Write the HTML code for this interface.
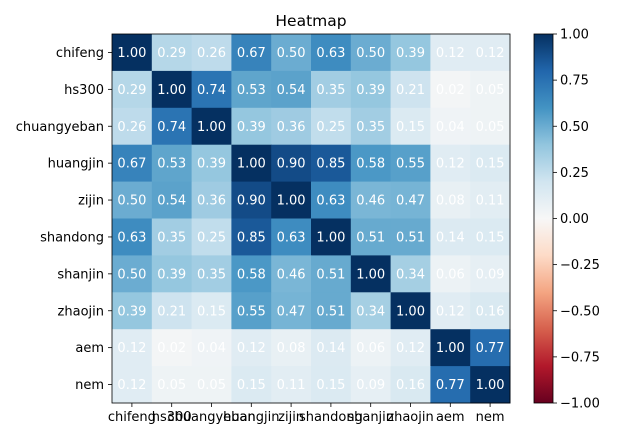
<!DOCTYPE html>
<html><head><meta charset="utf-8"><style>
html,body{margin:0;padding:0;background:#fff;}
svg{display:block;font-family:"DejaVu Sans","Liberation Sans",sans-serif;}
</style></head><body>
<svg id="s" width="619" height="437" xmlns="http://www.w3.org/2000/svg">
<defs><linearGradient id="cb" x1="0" y1="1" x2="0" y2="0">
<stop offset="0" stop-color="#67001f"/><stop offset="0.1" stop-color="#b2182b"/><stop offset="0.2" stop-color="#d6604d"/><stop offset="0.3" stop-color="#f4a582"/><stop offset="0.4" stop-color="#fddbc7"/><stop offset="0.5" stop-color="#f7f7f7"/><stop offset="0.6" stop-color="#d1e5f0"/><stop offset="0.7" stop-color="#92c5de"/><stop offset="0.8" stop-color="#4393c3"/><stop offset="0.9" stop-color="#2166ac"/><stop offset="1" stop-color="#053061"/>
</linearGradient></defs>
<text x="311" y="26" font-size="15.5" text-anchor="middle" fill="#000">Heatmap</text>
<g id="g"></g>
<rect x="534" y="34" width="19" height="369" fill="url(#cb)" stroke="#000" stroke-width="0.8"/>
</svg>
<script>
var names=["chifeng","hs300","chuangyeban","huangjin","zijin","shandong","shanjin","zhaojin","aem","nem"];
var M=[[1,.29,.26,.67,.50,.63,.50,.39,.12,.12],[.29,1,.74,.53,.54,.35,.39,.21,.02,.05],[.26,.74,1,.39,.36,.25,.35,.15,.04,.05],[.67,.53,.39,1,.90,.85,.58,.55,.12,.15],[.50,.54,.36,.90,1,.63,.46,.47,.08,.11],[.63,.35,.25,.85,.63,1,.51,.51,.14,.15],[.50,.39,.35,.58,.46,.51,1,.34,.06,.09],[.39,.21,.15,.55,.47,.51,.34,1,.12,.16],[.12,.02,.04,.12,.08,.14,.06,.12,1,.77],[.12,.05,.05,.15,.11,.15,.09,.16,.77,1]];
var stops=[[247,247,247],[209,229,240],[146,197,222],[67,147,195],[33,102,172],[5,48,97]];
function col(v){var t=v/0.2,i=Math.min(4,Math.floor(t)),f=t-i,a=stops[i],b=stops[i+1];
return "rgb("+a.map(function(x,k){return Math.round(x+(b[k]-x)*f)}).join(",")+")";}
var L=112,T=34,W=398/10,H=369/10,h="";
for(var r=0;r<10;r++)for(var c=0;c<10;c++){
h+='<rect x="'+(L+c*W)+'" y="'+(T+r*H)+'" width="'+(W+0.5)+'" height="'+(H+0.5)+'" fill="'+col(M[r][c])+'"/>';
h+='<text x="'+(L+c*W+W/2)+'" y="'+(T+r*H+H/2+4.5)+'" font-size="13" fill="#fff" text-anchor="middle">'+M[r][c].toFixed(2)+'</text>';}
h+='<rect x="'+L+'" y="'+T+'" width="398" height="369" fill="none" stroke="#000" stroke-width="0.8"/>';
for(var i=0;i<10;i++){var x=L+i*W+W/2,y=T+i*H+H/2;
h+='<line x1="'+x+'" y1="403" x2="'+x+'" y2="407" stroke="#000" stroke-width="0.8"/>';
h+='<text x="'+x+'" y="421" font-size="13" text-anchor="middle" fill="#000">'+names[i]+'</text>';
h+='<line x1="108" y1="'+y+'" x2="112" y2="'+y+'" stroke="#000" stroke-width="0.8"/>';
h+='<text x="104" y="'+(y+4.5)+'" font-size="13" text-anchor="end" fill="#000">'+names[i]+'</text>';}
for(var k=0;k<9;k++){var v=1-k*0.25,y=34+k*369/8;
h+='<line x1="553" y1="'+y+'" x2="557" y2="'+y+'" stroke="#000" stroke-width="0.8"/>';
h+='<text x="560" y="'+(y+4.5)+'" font-size="13" fill="#000">'+(v<0?"\u2212":"")+Math.abs(v).toFixed(2)+'</text>';}
document.getElementById("g").innerHTML=h;
</script>
</body></html>
